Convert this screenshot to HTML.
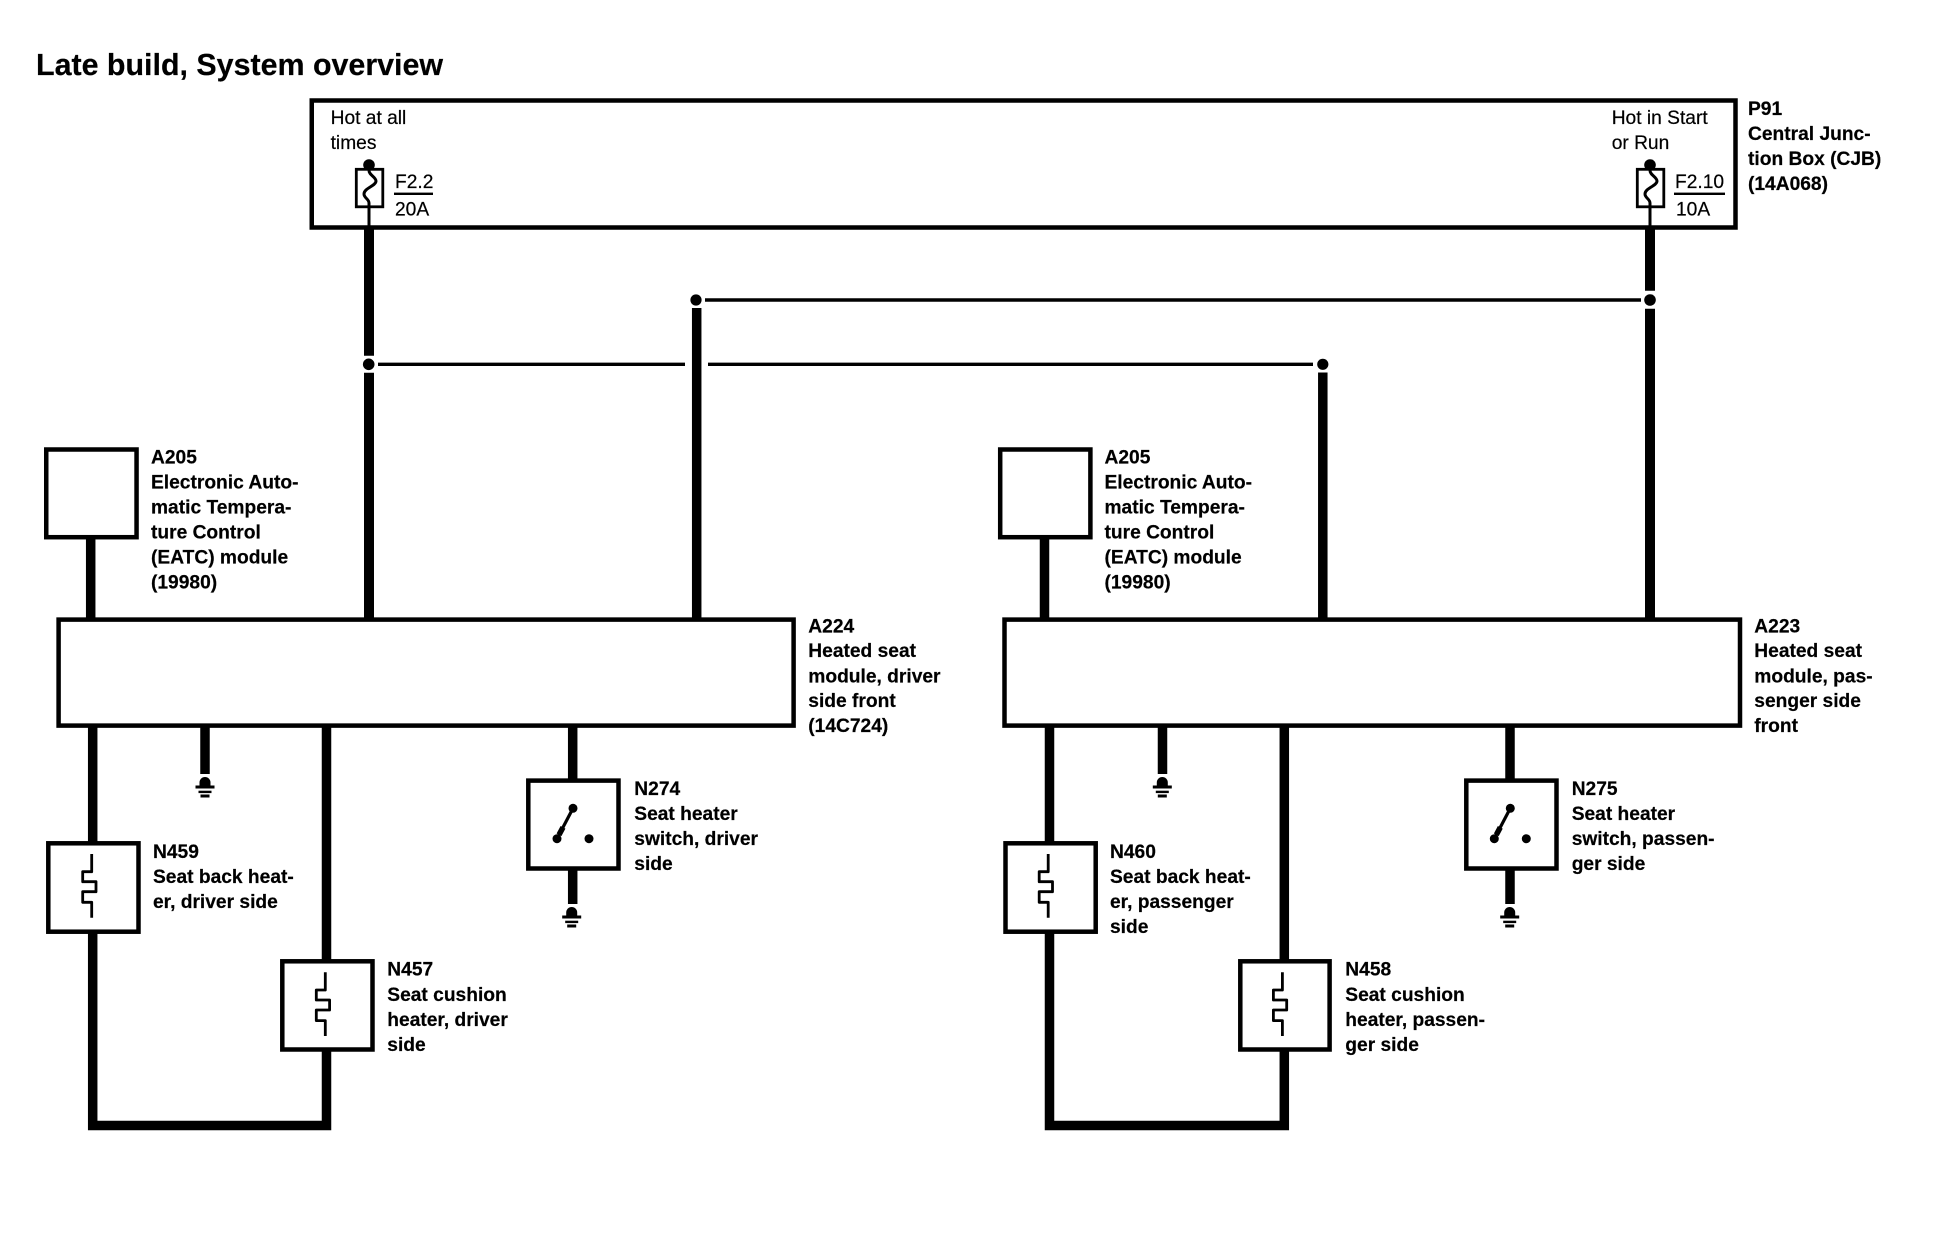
<!DOCTYPE html>
<html>
<head>
<meta charset="utf-8">
<style>
html,body{margin:0;padding:0;background:#fff}
svg{display:block}
text{font-family:"Liberation Sans",Arial,sans-serif;fill:#000;font-size:19.2px;stroke:#000;stroke-width:.2}
.b{font-weight:bold}
.box{fill:#fff;stroke:#000;stroke-width:4.5}
.w{stroke:#000;stroke-width:9.5;fill:none}
.t{stroke:#000;stroke-width:3.4;fill:none}
.h{stroke:#000;stroke-width:2.8;fill:none;stroke-linejoin:round}
.f{stroke:#000;stroke-width:3;fill:none}
</style>
</head>
<body>
<svg width="1940" height="1248" viewBox="0 0 1940 1248" xmlns="http://www.w3.org/2000/svg">
<defs>
<g id="gnd">
<path d="M-5.5 12.5 V9 A5.5 5.5 0 0 1 5.5 9 V12.5 Z" fill="#000"/>
<rect x="-9.5" y="12" width="19" height="3" fill="#000"/>
<rect x="-6.5" y="17.2" width="13" height="2.4" fill="#000"/>
<rect x="-4.5" y="21" width="9" height="3" fill="#000"/>
</g>
<path id="heat" class="h" d="M0 0 V17.7 H-9 V27.7 H4.3 V37.7 H-9 V48.3 H0 V63.7"/>
<g id="sw">
<circle cx="0" cy="0" r="4.5" fill="#000"/>
<circle cx="-16" cy="30.4" r="4.5" fill="#000"/>
<circle cx="16" cy="30.4" r="4.5" fill="#000"/>
<path d="M0 0 L-16 30.4" stroke="#000" stroke-width="3.2"/>
<path d="M-10 19 L-14 26.5" stroke="#000" stroke-width="5.5"/>
</g>
</defs>
<rect width="1940" height="1248" fill="#fff"/>

<text class="b" x="36" y="75" style="font-size:30.4px">Late build, System overview</text>

<!-- wires -->
<path class="w" style="stroke-width:10" d="M369 228V355.7M369 372.7V619"/>
<path class="w" style="stroke-width:10" d="M1650 228V290.7M1650 308.7V619"/>
<path class="w" d="M696.7 308V619"/>
<path class="w" d="M1322.8 372.5V619"/>
<path class="t" d="M705 300H1641"/>
<path class="t" d="M378 364.3H685M708 364.3H1313"/>
<circle cx="368.7" cy="364.3" r="5.8" fill="#000"/>
<circle cx="1650" cy="300" r="5.8" fill="#000"/>
<circle cx="696" cy="300" r="5.6" fill="#000"/>
<circle cx="1322.8" cy="364.3" r="5.6" fill="#000"/>

<path class="w" d="M90.7 537V619"/>
<path class="w" d="M1044.5 537V619"/>

<path class="w" d="M92.7 725V1125.5H326.5V725"/>
<path class="w" d="M205 725V774"/>
<path class="w" d="M572.7 725V904"/>
<path class="w" d="M1049.5 725V1125.5H1284.3V725"/>
<path class="w" d="M1162.5 725V774"/>
<path class="w" d="M1510 725V904"/>

<!-- top box -->
<rect class="box" x="311.75" y="100.5" width="1423.75" height="127"/>
<text x="330.6" y="124">Hot at all</text>
<text x="330.6" y="149">times</text>
<text x="1611.7" y="124">Hot in Start</text>
<text x="1611.7" y="149">or Run</text>

<!-- fuses -->
<path d="M369 207V227" stroke="#000" stroke-width="3"/>
<circle cx="369" cy="165" r="5.8" fill="#000"/>
<rect x="356.3" y="169.3" width="26.5" height="37.5" fill="#fff" stroke="#000" stroke-width="2.8"/>
<path class="f" d="M369 170.5 C369 175 376 177 376 181 C376 186 364 188 364 194 C364 198 369 199 369 203 V207"/>
<text x="395" y="188">F2.2</text>
<rect x="394" y="192.6" width="39" height="2.4" fill="#000"/>
<text x="395" y="215.7">20A</text>

<path d="M1650 207V227" stroke="#000" stroke-width="3"/>
<circle cx="1650" cy="165" r="5.8" fill="#000"/>
<rect x="1637.3" y="169.3" width="26.5" height="37.5" fill="#fff" stroke="#000" stroke-width="2.8"/>
<path class="f" d="M1650 170.5 C1650 175 1657 177 1657 181 C1657 186 1645 188 1645 194 C1645 198 1650 199 1650 203 V207"/>
<text x="1675" y="188">F2.10</text>
<rect x="1674" y="192.6" width="51" height="2.4" fill="#000"/>
<text x="1676" y="215.7">10A</text>

<text class="b" x="1748" y="115">P91</text>
<text class="b" x="1748" y="140">Central Junc-</text>
<text class="b" x="1748" y="165">tion Box (CJB)</text>
<text class="b" x="1748" y="190">(14A068)</text>

<!-- A205 left -->
<rect class="box" x="46.25" y="449.5" width="90.3" height="87.7"/>
<text class="b" x="151" y="463.5">A205</text>
<text class="b" x="151" y="488.5">Electronic Auto-</text>
<text class="b" x="151" y="513.7">matic Tempera-</text>
<text class="b" x="151" y="538.7">ture Control</text>
<text class="b" x="151" y="563.7">(EATC) module</text>
<text class="b" x="151" y="588.5">(19980)</text>

<!-- A205 right -->
<rect class="box" x="1000.2" y="449.5" width="90.2" height="87.7"/>
<text class="b" x="1104.5" y="463.5">A205</text>
<text class="b" x="1104.5" y="488.5">Electronic Auto-</text>
<text class="b" x="1104.5" y="513.7">matic Tempera-</text>
<text class="b" x="1104.5" y="538.7">ture Control</text>
<text class="b" x="1104.5" y="563.7">(EATC) module</text>
<text class="b" x="1104.5" y="588.5">(19980)</text>

<!-- modules -->
<rect class="box" x="58.6" y="619.6" width="735" height="106"/>
<text class="b" x="808.3" y="632.3">A224</text>
<text class="b" x="808.3" y="657">Heated seat</text>
<text class="b" x="808.3" y="682.3">module, driver</text>
<text class="b" x="808.3" y="707">side front</text>
<text class="b" x="808.3" y="732">(14C724)</text>

<rect class="box" x="1004.5" y="619.6" width="735.5" height="106"/>
<text class="b" x="1754.3" y="632.3">A223</text>
<text class="b" x="1754.3" y="657">Heated seat</text>
<text class="b" x="1754.3" y="682.3">module, pas-</text>
<text class="b" x="1754.3" y="707">senger side</text>
<text class="b" x="1754.3" y="732">front</text>

<!-- grounds -->
<use href="#gnd" x="205" y="773.5"/>
<use href="#gnd" x="571.7" y="903.5"/>
<use href="#gnd" x="1162.3" y="773.5"/>
<use href="#gnd" x="1509.7" y="903.5"/>

<!-- switches -->
<rect class="box" x="528.3" y="780.6" width="90.2" height="87.9"/>
<use href="#sw" x="573" y="808.3"/>
<text class="b" x="634.3" y="795">N274</text>
<text class="b" x="634.3" y="820">Seat heater</text>
<text class="b" x="634.3" y="845">switch, driver</text>
<text class="b" x="634.3" y="870">side</text>

<rect class="box" x="1466.3" y="780.6" width="90.2" height="87.9"/>
<use href="#sw" x="1510.3" y="808.3"/>
<text class="b" x="1571.7" y="795">N275</text>
<text class="b" x="1571.7" y="820">Seat heater</text>
<text class="b" x="1571.7" y="845">switch, passen-</text>
<text class="b" x="1571.7" y="870">ger side</text>

<!-- heaters -->
<rect class="box" x="48.3" y="843.3" width="90.2" height="88.4"/>
<use href="#heat" x="91.7" y="854"/>
<text class="b" x="153" y="858">N459</text>
<text class="b" x="153" y="883">Seat back heat-</text>
<text class="b" x="153" y="908">er, driver side</text>

<rect class="box" x="282.3" y="961.3" width="90.2" height="88.2"/>
<use href="#heat" x="325.3" y="972.3"/>
<text class="b" x="387.3" y="975.5">N457</text>
<text class="b" x="387.3" y="1001">Seat cushion</text>
<text class="b" x="387.3" y="1026">heater, driver</text>
<text class="b" x="387.3" y="1051">side</text>

<rect class="box" x="1005.5" y="843.3" width="90.2" height="88.4"/>
<use href="#heat" x="1048.2" y="854"/>
<text class="b" x="1110" y="858">N460</text>
<text class="b" x="1110" y="883">Seat back heat-</text>
<text class="b" x="1110" y="908">er, passenger</text>
<text class="b" x="1110" y="933">side</text>

<rect class="box" x="1240.3" y="961.3" width="89.3" height="88.2"/>
<use href="#heat" x="1282.4" y="972.3"/>
<text class="b" x="1345.3" y="975.5">N458</text>
<text class="b" x="1345.3" y="1001">Seat cushion</text>
<text class="b" x="1345.3" y="1026">heater, passen-</text>
<text class="b" x="1345.3" y="1051">ger side</text>
</svg>
</body>
</html>
